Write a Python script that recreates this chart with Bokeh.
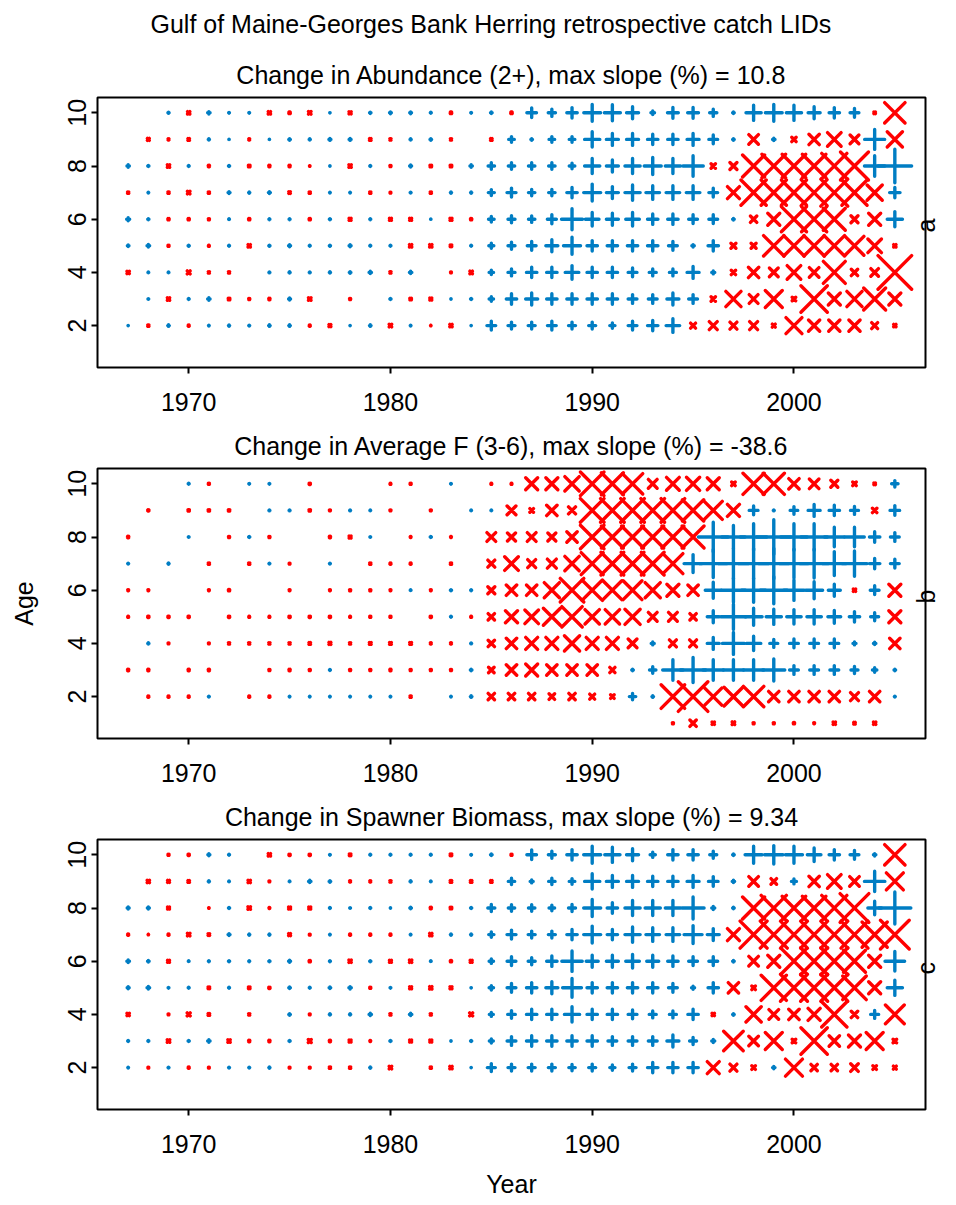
import math
from bokeh.plotting import figure
from bokeh.layouts import column
from bokeh.models import ColumnDataSource, Range1d, FixedTicker, Title, LinearAxis
from bokeh.core.properties import value
from bokeh.embed import file_html
from bokeh.resources import INLINE

N = float("nan")
years = list(range(1967, 2006))

# ---------------- Panel a: Change in Abundance (2+) -----------------
A10 = [N, N, .3, -.6, .6, .2, .2, -.6, -.35, -.65, .1, -.55, .35, .45, .45, .25, -.35, .2,
       .4, -.35, 2.4, 1.8, 2.6, 4.2, 4.0, 3.0, .9, 2.7, 2.7, 1.8, .4, 3.8, 4.2, 3.8, 3.0, 2.6, 2.2, -.4, -5.1]
A9 = [N, -.5, -.25, -.4, .3, .1, -.25, .1, .4, .3, .5, .5, -.4, -.3, .3, .4, -.3, N,
      -.4, 1.4, .4, 1.4, 1.4, 3.8, 3.0, 3.0, 2.6, 2.6, 3.0, 2.2, .4, -2.4, .6, -1.1, -2.6, -3.4, -2.2, 5.0, -3.8]
A8 = [.6, .3, -.6, .25, -.3, .3, -.4, -.3, -.3, -.1, .1, -.6, .25, -.25, .5, -.4, -.4, .6,
      1.6, 1.6, 1.6, 1.6, 1.4, 3.8, 3.0, 3.8, 4.25, 3.8, 5.1, -1.1, -1.75, -5.5, -5.9, -5.9, -5.9, -6.3, -7.0, 5.1, 8.4]
A7 = [-.3, .2, -.3, -.65, -.3, .5, .3, .5, -.4, -.3, .2, .2, -.3, -.2, .25, -.3, .3, .3,
      1.5, 2.25, 1.6, 1.6, 2.6, 4.25, 3.0, 3.8, 3.4, 3.4, 3.4, 2.2, -3.0, -6.3, -6.3, -6.3, -6.5, -6.75, -6.3, -3.8, 2.6]
A6 = [.75, .3, -.3, -.3, -.25, .2, -.3, .25, .25, -.3, .3, -.5, .25, -.5, -.5, .1, -.5, -.3,
      1.4, 1.75, 1.6, 2.25, 5.25, 3.4, 3.0, 3.4, 2.6, 2.6, 2.2, 2.2, .4, -1.6, -3.0, -6.3, -6.3, -5.5, -1.75, -3.0, 3.8]
A5 = [.4, .65, -.25, .3, -.2, .25, -.6, .3, .5, .25, .3, .5, .25, .25, -.6, -.6, -.4, .25,
      1.25, 1.75, 2.2, 3.0, 4.25, 2.6, 2.6, 2.6, 2.6, 2.2, .6, 2.6, -1.25, -1.25, -5.1, -5.1, -5.1, -5.1, -4.7, -3.4, -.6]
A4 = [-.6, .2, .2, -.75, -.3, -.3, N, .25, .3, .25, .3, .4, .6, -.3, .6, N, -.2, -.65,
      1.1, 1.75, 2.6, 2.6, 3.4, 2.6, 2.6, 2.2, 1.75, 1.75, 3.0, .75, -1.1, -2.6, -2.2, -3.4, -2.4, -5.5, -1.6, -1.9, -8.4]
A3 = [N, .2, -.6, .25, .6, -.4, -.25, -.3, .5, -.65, N, -.25, N, .3, -.4, -.5, .1, .3,
      1.1, 2.6, 3.0, 2.6, 2.6, 2.6, 2.6, 2.2, 2.2, 3.0, 2.2, -1.1, -3.8, -2.2, -4.25, -.9, -6.6, -3.0, -3.8, -5.5, -3.0]
A2 = [.1, -.3, .4, -.25, .2, .3, .25, .4, .4, -.25, -.5, .1, .4, -.65, .2, -.1, -.6, .1,
      2.2, 1.75, 1.75, 2.2, 1.75, 1.75, 1.3, 2.2, 2.6, 3.4, -1.25, -2.0, -1.75, -2.0, -.75, -4.0, -2.8, -2.8, -2.8, -1.5, -.6]

# ---------------- Panel b: Change in Average F (3-6) -----------------
B10 = [N, N, N, .25, -.25, N, .2, .2, N, -.3, N, N, N, -.2, -.25, N, .2, N,
       -.2, -.2, -3.0, -3.0, -3.6, -5.9, -5.5, -5.1, -2.2, -3.2, -3.3, -3.0, -.9, -5.3, -5.3, -2.6, -2.4, -1.75, -.9, -.4, 1.6]
B9 = [N, -.25, N, -.3, -.3, -.3, N, .25, .25, -.3, -.2, .25, .2, -.2, N, -.2, N, .2,
      .2, -2.2, -.9, -2.6, -1.75, -5.9, -5.9, -5.9, -5.9, -5.9, -5.3, -4.5, -3.0, 2.2, .25, 1.9, 3.0, 2.6, 2.0, -1.1, 2.4]
B8 = [-.3, N, N, .2, N, -.25, .3, -.25, N, N, -.3, -.5, .2, N, -.2, .3, -.2, N,
      -2.2, -2.0, -2.2, -2.0, -2.6, -5.9, -5.5, -5.5, -5.5, -5.5, -5.5, 7.4, 5.8, 6.6, 8.6, 6.6, 6.6, 4.9, 4.9, 2.6, 2.2]
B7 = [.25, N, .3, N, -.3, N, -.3, .25, -.2, N, .25, N, -.3, -.25, -.25, N, -.3, N,
      -1.75, -3.4, -2.0, -2.25, -3.6, -5.5, -5.7, -5.7, -5.7, -5.0, 4.5, 7.0, 7.6, 7.6, 7.6, 7.2, 7.2, 6.0, 6.3, 2.6, 2.2]
B6 = [-.2, -.2, N, N, -.2, -.3, N, N, -.2, N, -.2, -.25, -.25, -.2, .2, -.2, .3, .25,
      -1.75, -2.6, -2.6, -3.8, -5.9, -5.1, -4.7, -4.7, -3.8, -3.0, -2.6, 4.0, 6.0, 6.0, 6.75, 5.1, 4.25, 3.0, -.6, 2.2, -3.0]
B5 = [-.2, -.3, -.3, -.3, N, -.3, -.2, -.2, -.3, -.3, -.3, -.2, -.25, -.25, N, -.3, .25, -.2,
      -1.6, -3.0, -3.4, -4.25, -5.1, -3.6, -3.6, -3.8, -2.2, -2.2, -1.6, 3.0, 6.3, 4.25, 3.8, 3.6, 3.6, 3.2, 2.6, 2.0, -3.0]
B4 = [N, .3, -.2, N, -.2, -.3, -.3, -.3, -.3, -.4, -.5, -.3, -.45, -.45, -.45, -.25, -.25, .25,
      -1.6, -2.6, -3.0, -3.0, -3.8, -3.0, -3.0, -2.2, .75, -1.75, -1.75, 3.0, 5.5, 3.6, 2.0, 2.2, 2.2, 2.2, .75, .6, -2.6]
B3 = [-.3, -.3, N, -.3, -.3, N, N, -.25, -.3, -.25, .25, -.25, -.25, -.3, -.25, -.25, -.25, .4,
      -1.4, -2.6, -3.0, -2.6, -2.6, -2.6, -1.3, .4, 1.6, 5.1, 6.3, 5.1, 5.1, 5.1, 5.5, 2.2, 2.2, 2.2, 1.75, 1.1, .4]
B2 = [N, -.25, -.25, -.25, .25, N, -.25, -.25, .2, .2, .2, .2, .2, .2, -.3, N, .2, .4,
      -1.6, -1.6, -1.6, -1.4, -1.6, -1.25, -.9, 1.6, .4, -5.9, -7.4, -4.25, -4.7, -5.1, -2.6, -2.6, -2.6, -2.6, -2.0, -2.6, .25]
B1 = [N, N, N, N, N, N, N, N, N, N, N, N, N, N, N, N, N, N,
      N, N, N, N, N, N, N, N, N, -.25, -1.6, -.6, -.65, -.25, -.25, -.3, -.2, -.6, -.4, -.6, N]

# ---------------- Panel c: Change in Spawner Biomass -----------------
C10 = [N, N, -.25, -.3, .5, .25, N, -.6, -.3, -.3, .2, -.4, .25, .25, .25, .25, -.4, .2,
       .4, -.25, 2.4, 1.75, 2.6, 4.25, 3.8, 3.0, 1.3, 2.6, 2.6, 1.75, .4, 4.25, 4.6, 4.25, 3.4, 2.6, 2.2, .6, -5.1]
C9 = [N, -.6, -.5, -.4, .3, .2, -.6, -.2, .2, .6, .4, -.25, -.25, -.3, .3, .2, -.4, -.4,
      -.4, 1.6, .75, 1.6, 1.4, 3.8, 3.0, 3.0, 2.6, 2.6, 3.0, 2.4, .6, -2.4, -1.4, 1.25, -2.6, -3.4, -2.4, 5.1, -4.25]
C8 = [.5, .5, -.5, N, -.1, .3, -.65, -.2, -.5, -.5, .25, .2, .25, .1, .4, -.3, -.4, .3,
      1.75, 1.6, 1.6, 1.4, 1.75, 4.25, 2.6, 3.8, 3.8, 3.8, 5.5, .75, .4, -5.5, -6.3, -5.9, -5.9, -6.3, -7.2, 3.4, 8.0]
C7 = [-.25, -.1, -.25, -.65, -.4, .5, .3, .3, -.5, -.2, .2, -.25, -.25, -.25, .2, -.6, .3, .3,
      1.3, 2.25, 1.75, 1.75, 2.6, 4.25, 2.6, 3.8, 3.4, 3.4, 4.5, 3.0, -3.0, -6.75, -6.75, -6.75, -6.75, -6.75, -6.75, -6.3, -7.2]
C6 = [.65, .4, -.5, .2, .25, .3, .25, .3, .5, -.3, .25, -.6, .3, -.5, -.6, .2, -.3, -.5,
      1.1, 2.2, 1.75, 2.6, 5.1, 3.0, 3.0, 3.4, 3.0, 2.6, 2.2, 2.2, .4, -2.4, -3.0, -6.3, -6.75, -6.75, -5.5, -3.0, 4.9]
C5 = [.5, .65, .2, .25, -.4, .25, -.4, -.3, .4, .25, .4, .6, -.25, .2, -.5, -.6, -.5, .1,
      1.1, 2.2, 2.6, 3.0, 4.7, 2.6, 2.6, 2.6, 2.6, 2.2, .75, 2.6, -2.6, -.9, -6.3, -6.75, -6.75, -6.75, -5.9, -3.0, 3.8]
C4 = [-.6, N, -.2, -.75, -.4, N, -.3, N, .4, -.2, .3, .3, .6, -.3, .6, -.3, N, -.75,
      1.0, 1.9, 2.6, 2.6, 3.8, 2.6, 2.6, 2.2, 1.75, 1.75, 2.6, -.6, .4, -3.8, -2.4, -2.6, -3.0, -6.3, -1.6, 2.0, -4.7]
C3 = [.25, .25, -.65, .3, .6, -.6, -.3, -.3, .3, -.75, -.3, -.5, -.2, .3, -.5, -.5, .1, .3,
      1.0, 2.2, 2.6, 2.6, 2.6, 2.6, 2.2, 2.2, 2.2, 3.0, 1.75, .75, -4.9, -2.4, -4.25, -.9, -6.6, -2.6, -3.0, -4.25, -.9]
C2 = [.2, -.2, .25, -.25, -.2, .25, .25, .3, -.2, -.2, -.3, -.3, .3, -.65, N, -.3, -.6, .1,
      2.0, 1.75, 1.75, 1.75, 1.6, 1.75, 1.3, 1.75, 2.6, 2.6, 2.6, -3.0, -1.75, -.9, .6, -4.25, -1.6, -1.6, -1.9, -.9, -.75]

main_title = "Gulf of Maine-Georges Bank Herring retrospective catch LIDs"
titles = ["Change in Abundance (2+), max slope (%) = 10.8",
          "Change in Average F (3-6), max slope (%) = -38.6",
          "Change in Spawner Biomass, max slope (%) = 9.34"]
tags = ["a", "b", "c"]
rows_a = {10: A10, 9: A9, 8: A8, 7: A7, 6: A6, 5: A5, 4: A4, 3: A3, 2: A2}
rows_b = {10: B10, 9: B9, 8: B8, 7: B7, 6: B6, 5: B5, 4: B4, 3: B3, 2: B2, 1: B1}
rows_c = {10: C10, 9: C9, 8: C8, 7: C7, 6: C6, 5: C5, 4: C4, 3: C3, 2: C2}
x_ticks = [1970, 1980, 1990, 2000]
y_ticks = [2, 4, 6, 8, 10]

# ---------------- styling ----------------
BLUE = "#007DC3"
RED = "#FF0000"
FONT = "Liberation Sans"
FS = "25px"
SCALE = 4.0                 # px of marker size per unit of change
X_FACTOR = math.sqrt(2)     # bokeh "x" spans size/sqrt(2)
LW = 3.4
X0, X1 = 1965.48, 2006.52
Y0, Y1 = 0.424, 10.576
W = 956
ML = 97
MR = 28


def text_style(obj, prefix=""):
    setattr(obj, prefix + "text_font", FONT)
    setattr(obj, prefix + "text_font_size", FS)
    setattr(obj, prefix + "text_font_style", "normal")
    setattr(obj, prefix + "text_color", "black")


def make_panel(rows, title, tag, height, top, bottom, main=None, xlab=None, ylab=None):
    p = figure(width=W, height=height, title=None,
               x_range=Range1d(X0, X1), y_range=Range1d(Y0, Y1),
               output_backend="svg", toolbar_location=None,
               min_border_left=ML, min_border_right=MR,
               min_border_top=top, min_border_bottom=bottom)
    p.background_fill_color = "white"
    p.border_fill_color = "white"
    p.outline_line_color = "black"
    p.outline_line_width = 2
    p.grid.visible = False

    xs, ys, ss, ms, cs = [], [], [], [], []
    for age, vals in rows.items():
        for yr, v in zip(years, vals):
            if v is None or (isinstance(v, float) and math.isnan(v)):
                continue
            xs.append(yr)
            ys.append(age)
            if v > 0:
                ss.append(SCALE * v)
                ms.append("cross")
                cs.append(BLUE)
            else:
                ss.append(SCALE * abs(v) * X_FACTOR)
                ms.append("x")
                cs.append(RED)
    src = ColumnDataSource(dict(x=xs, y=ys, size=ss, marker=ms, color=cs))
    p.scatter("x", "y", source=src, size="size", marker="marker",
              line_color="color", fill_color=None, line_width=LW,
              line_cap=value("round"))

    for ax in (p.xaxis[0], p.yaxis[0]):
        ax.axis_line_color = None
        ax.major_tick_in = 0
        ax.major_tick_out = 6
        ax.major_tick_line_width = 2
        ax.major_tick_line_color = "black"
        ax.minor_tick_line_color = None
        ax.major_label_text_font = FONT
        ax.major_label_text_font_size = FS
        ax.major_label_text_color = "black"
        text_style(ax, "axis_label_")
    p.xaxis.ticker = FixedTicker(ticks=x_ticks)
    p.yaxis.ticker = FixedTicker(ticks=y_ticks)
    p.xaxis.major_label_standoff = 19
    p.yaxis.major_label_standoff = 5
    p.yaxis.major_label_orientation = "vertical"
    if xlab:
        p.xaxis.axis_label = xlab
        p.xaxis.axis_label_standoff = 14
    if ylab:
        p.yaxis.axis_label = ylab
        p.yaxis.axis_label_standoff = 28

    sub = Title(text=title, align="center", standoff=18, vertical_align="bottom")
    text_style(sub)
    p.add_layout(sub, "above")
    if main:
        mt = Title(text=main, align="left", offset=53, standoff=19, vertical_align="top")
        text_style(mt)
        p.add_layout(mt, "above")

    # panel letter on the right side
    rax = LinearAxis(ticker=FixedTicker(ticks=[]), axis_label=tag,
                     axis_label_standoff=0, axis_line_color=None,
                     major_tick_line_color=None, minor_tick_line_color=None,
                     major_tick_in=0, major_tick_out=0, major_label_standoff=0,
                     major_label_text_font_size="0px")
    text_style(rax, "axis_label_")
    if "axis_label_orientation" in LinearAxis.properties():
        rax.axis_label_orientation = math.pi / 2
    p.add_layout(rax, "right")
    return p


pa = make_panel(rows_a, titles[0], tags[0], 420, 97, 53, main=main_title)
pb = make_panel(rows_b, titles[1], tags[1], 371, 48, 53, ylab="Age")
pc = make_panel(rows_c, titles[2], tags[2], 413, 48, 95, xlab="Year")

layout = column(pa, pb, pc, spacing=0)
open("out.html", "w").write(file_html(layout, INLINE))
